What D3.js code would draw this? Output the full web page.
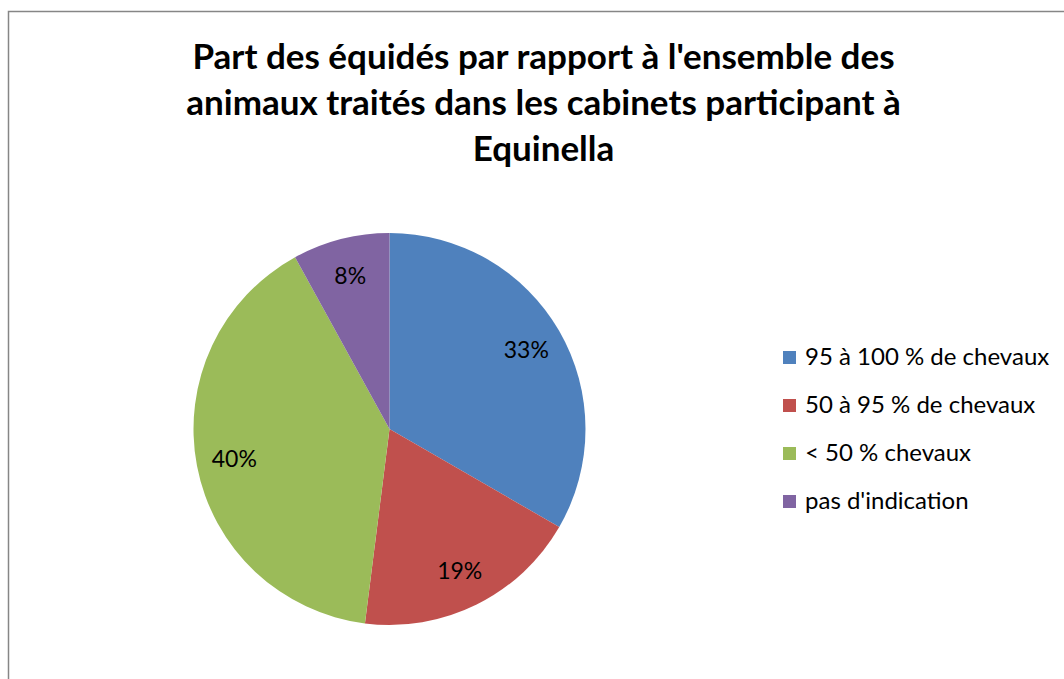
<!DOCTYPE html>
<html>
<head>
<meta charset="utf-8">
<script src="https://cdn.jsdelivr.net/npm/d3@7"></script>
<style>
  body { margin: 0; background: #fff; }
  svg text { font-family: Lato, "Open Sans", sans-serif; }
</style>
</head>
<body>
<div id="chart"></div>
<script>
// data (counts of cabinets)
const categories = ['95 à 100 % de chevaux', '50 à 95 % de chevaux', '< 50 % chevaux', "pas d'indication"];
const counts = [25, 14, 30, 6];
const colors = ['#4F81BD', '#C0504D', '#9BBB59', '#8064A2'];
const titleLines = ["Part des équidés par rapport à l'ensemble des",
                    'animaux traités dans les cabinets participant à',
                    'Equinella'];

const width = 1064, height = 679;
const cx = 389.5, cy = 429, radius = 196;

const svg = d3.select('#chart').append('svg')
    .attr('width', width)
    .attr('height', height);

svg.append('rect')
    .attr('x', 8.5).attr('y', 11.5)
    .attr('width', width).attr('height', height)
    .attr('fill', '#fff')
    .attr('stroke', '#868686')
    .attr('stroke-width', 1.5);

// title
svg.append('g').selectAll('text')
    .data(titleLines)
    .enter().append('text')
    .attr('x', 543.5)
    .attr('y', (d, i) => 69 + i * 46)
    .attr('text-anchor', 'middle')
    .attr('font-size', '35px')
    .attr('font-weight', 'bold')
    .attr('fill', '#000')
    .text(d => d);

const total = d3.sum(counts);
const pie = d3.pie().sort(null).value(d => d);
const arcs = pie(counts);
const arc = d3.arc().innerRadius(0).outerRadius(radius);
const labelArc = d3.arc().innerRadius(158).outerRadius(158);

const g = svg.append('g').attr('transform', `translate(${cx},${cy})`);

g.selectAll('path')
    .data(arcs)
    .enter().append('path')
    .attr('d', arc)
    .attr('fill', (d, i) => colors[i]);

g.selectAll('text')
    .data(arcs)
    .enter().append('text')
    .attr('transform', d => `translate(${labelArc.centroid(d)})`)
    .attr('text-anchor', 'middle')
    .attr('dy', '0.35em')
    .attr('font-size', '23px')
    .attr('fill', '#000')
    .text(d => Math.round(d.value / total * 100) + '%');

// legend
const legend = svg.append('g').attr('transform', 'translate(783,357)');
const item = legend.selectAll('g')
    .data(categories)
    .enter().append('g')
    .attr('transform', (d, i) => `translate(0,${i * 48})`);

item.append('rect')
    .attr('x', 0).attr('y', -6)
    .attr('width', 13).attr('height', 13)
    .attr('fill', (d, i) => colors[i]);

item.append('text')
    .attr('x', 22)
    .attr('dy', '0.35em')
    .attr('font-size', '24px')
    .attr('fill', '#000')
    .text(d => d);
</script>
</body>
</html>
